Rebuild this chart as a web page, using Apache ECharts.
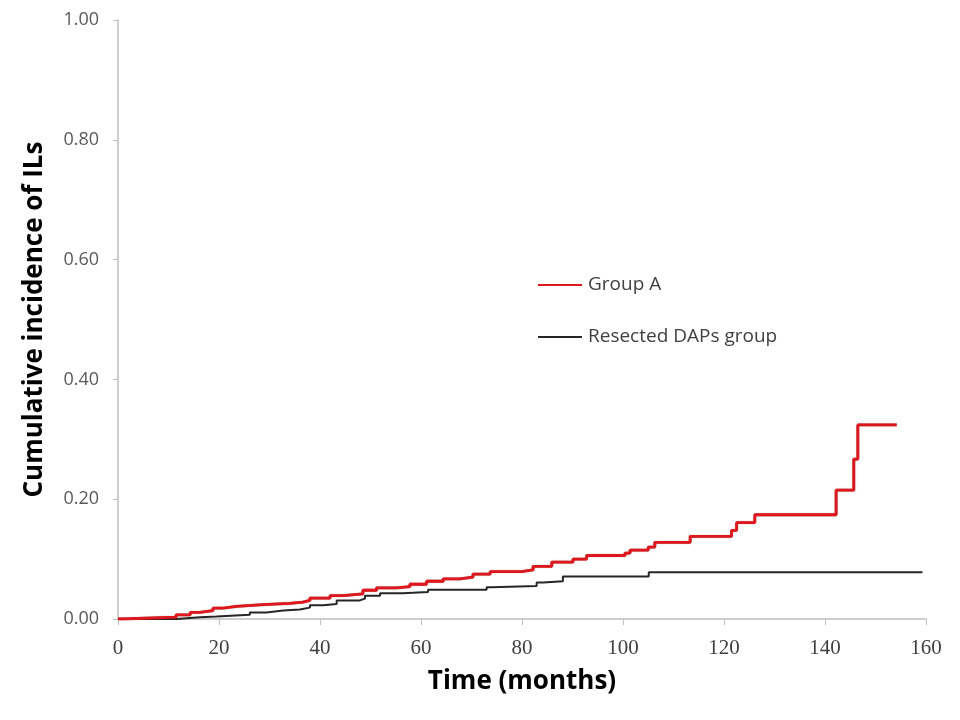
<!DOCTYPE html>
<html>
<head>
<meta charset="utf-8">
<script src="https://cdn.jsdelivr.net/npm/echarts@6/dist/echarts.min.js"></script>
<style>html,body{margin:0;padding:0;background:#fff;}#c{width:960px;height:720px;}</style>
</head>
<body>
<div id="c"></div>
<script>
const seriesNames = ['Group A', 'Resected DAPs group'];
const groupA = [[0,0],[1,0.003],[11.5,0.007],[14.3,0.011],[16.2,0.014],[18.8,0.018],[20.8,0.021],[23.5,0.024],[28.7,0.026],[34,0.028],[36.6,0.031],[38,0.035],[42,0.039],[44.6,0.042],[48.5,0.048],[51.2,0.052],[55.2,0.054],[57.8,0.058],[61.1,0.063],[64.4,0.067],[67.7,0.070],[70.3,0.075],[73.7,0.079],[79.9,0.082],[82.2,0.088],[85.9,0.095],[90.1,0.100],[92.8,0.106],[100.4,0.110],[101.4,0.115],[105,0.120],[106.3,0.128],[113.3,0.138],[121.5,0.148],[122.5,0.161],[126.1,0.174],[142.2,0.215],[145.7,0.267],[146.5,0.324],[154.2,0.324]];
const resected = [[0,0],[11.6,0.003],[16.2,0.004],[19.5,0.007],[26.1,0.011],[29.4,0.014],[32.7,0.016],[36,0.019],[38,0.023],[40.6,0.025],[43.3,0.031],[47.9,0.034],[48.9,0.039],[51.9,0.043],[56.4,0.045],[61.4,0.049],[73,0.053],[74,0.055],[82.9,0.061],[84.2,0.063],[88.1,0.071],[105.1,0.078],[159.3,0.078]];
const xTicks = [0,20,40,60,80,100,120,140,160];
const yTicks = [0,0.2,0.4,0.6,0.8,1.0];

const chart = echarts.init(document.getElementById('c'));
chart.setOption({
  animation: false,
  grid: {left: 118, right: 34, top: 20, bottom: 101},
  legend: {
    orient: 'vertical', left: 533, top: 270, itemGap: 32,
    icon: 'rect', itemWidth: 44, itemHeight: 2,
    textStyle: {fontFamily: 'Open Sans', fontSize: 19, lineHeight: 20, color: '#404040', padding: [0,0,0,1]},
    data: seriesNames
  },
  xAxis: {
    type: 'value', min: xTicks[0], max: xTicks[xTicks.length-1], interval: 20,
    name: 'Time (months)', nameLocation: 'middle', nameGap: 50,
    nameTextStyle: {fontFamily: 'Open Sans', fontWeight: 'bold', fontSize: 26, color: '#000'},
    axisLine: {lineStyle: {color: '#bfbfbf', width: 1.5}},
    axisTick: {show: true, inside: false, length: 6, lineStyle: {color: '#bfbfbf'}},
    axisLabel: {fontFamily: 'Liberation Serif', fontSize: 21, color: '#404040', margin: 19},
    splitLine: {show: false}
  },
  yAxis: {
    type: 'value', min: yTicks[0], max: yTicks[yTicks.length-1], interval: 0.2,
    name: 'Cumulative incidence of ILs', nameLocation: 'middle', nameGap: 70,
    nameTextStyle: {fontFamily: 'Open Sans', fontWeight: 'bold', fontSize: 26, color: '#000'},
    axisLine: {show: true, lineStyle: {color: '#bfbfbf', width: 1.5}},
    axisTick: {show: true, inside: false, length: 5, lineStyle: {color: '#bfbfbf'}},
    axisLabel: {fontFamily: 'Open Sans', fontSize: 18, color: '#595959', margin: 19, formatter: v => v.toFixed(2)},
    splitLine: {show: false}
  },
  series: [
    {name: seriesNames[0], type: 'line', step: 'end', data: groupA, showSymbol: false, symbol: 'none',
     lineStyle: {color: '#e0161d', width: 2.8, shadowColor: 'rgba(90,0,0,0.6)', shadowBlur: 1}, itemStyle: {color: '#e0161d'}, z: 3},
    {name: seriesNames[1], type: 'line', step: 'end', data: resected, showSymbol: false, symbol: 'none',
     lineStyle: {color: '#262626', width: 2}, itemStyle: {color: '#262626'}, z: 2}
  ]
});
</script>
</body>
</html>
